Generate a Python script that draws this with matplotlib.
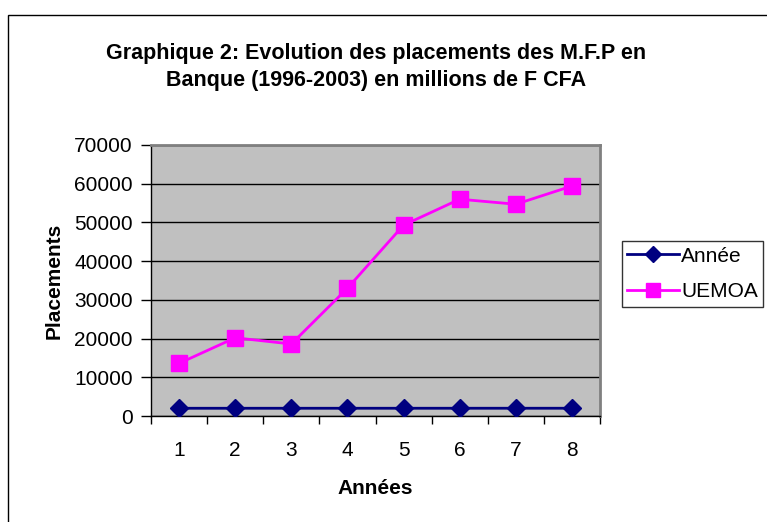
import numpy as np
import matplotlib.pyplot as plt
from matplotlib.patches import Rectangle

plt.rcParams['font.family'] = ['Liberation Sans', 'DejaVu Sans']

# data
categories = [1, 2, 3, 4, 5, 6, 7, 8]
annee = [1996, 1997, 1998, 1999, 2000, 2001, 2002, 2003]
uemoa = [13600, 20200, 18600, 33000, 49300, 56000, 54700, 59400]
y_ticks = [0, 10000, 20000, 30000, 40000, 50000, 60000, 70000]

W, H = 767, 522
fig = plt.figure(figsize=(W / 100, H / 100), dpi=100)

# outer chart frame (runs off the right and bottom edges)
fig.patches.append(Rectangle((8 / W, -0.1), 2.0, 1.1 - 15 / H,
                             transform=fig.transFigure, fill=False,
                             edgecolor='black', linewidth=1.0))

ax = fig.add_axes([151 / W, 106 / H, 449 / W, 271 / H])
ax.set_facecolor('#C0C0C0')

ax.plot(categories, annee, color='#000080', marker='D', markersize=9,
        linewidth=2, label='Année', zorder=3)
ax.plot(categories, uemoa, color='#FF00FF', marker='s', markersize=12,
        linewidth=2, label='UEMOA', zorder=3)

ax.set_xlim(0.5, 8.5)
ax.set_ylim(0, 70000)
ax.set_yticks(y_ticks)
ax.set_yticklabels([str(v) for v in y_ticks], fontsize=15)
ax.yaxis.grid(True, color='black', linewidth=1)
ax.set_axisbelow(True)

# ticks between categories, labels centred on categories
ax.set_xticks(np.arange(0.5, 9.0, 1.0))
ax.set_xticklabels([])
ax.set_xticks(categories, minor=True)
ax.set_xticklabels([str(c) for c in categories], minor=True, fontsize=15)
ax.tick_params(axis='x', which='major', direction='out', length=6, width=1)
ax.tick_params(axis='x', which='minor', length=0, pad=18)
ax.tick_params(axis='y', direction='out', length=7, width=1, pad=6)

for side in ['left', 'bottom']:
    ax.spines[side].set_color('black')
    ax.spines[side].set_linewidth(1)
for side in ['top', 'right']:
    ax.spines[side].set_color('#808080')
    ax.spines[side].set_linewidth(2)

ax.set_xlabel('Années', fontsize=15, fontweight='bold', labelpad=14)
ax.set_ylabel('Placements', fontsize=15, fontweight='bold', labelpad=7.5)

fig.text(376 / W, 1 - 67 / H,
         'Graphique 2: Evolution des placements des M.F.P en\nBanque (1996-2003) en millions de F CFA',
         ha='center', va='center', fontsize=15.5, fontweight='bold', linespacing=1.42)

leg = ax.legend(loc='center left', bbox_to_anchor=(622 / W, 1 - 274 / H),
                bbox_transform=fig.transFigure, fontsize=15, frameon=True,
                fancybox=False, edgecolor='black', borderpad=0.25,
                handlelength=2.5, handletextpad=0.1, labelspacing=0.8,
                borderaxespad=0, markerscale=0.85)
leg.get_frame().set_linewidth(1)

fig.savefig('out.png', dpi=100)
